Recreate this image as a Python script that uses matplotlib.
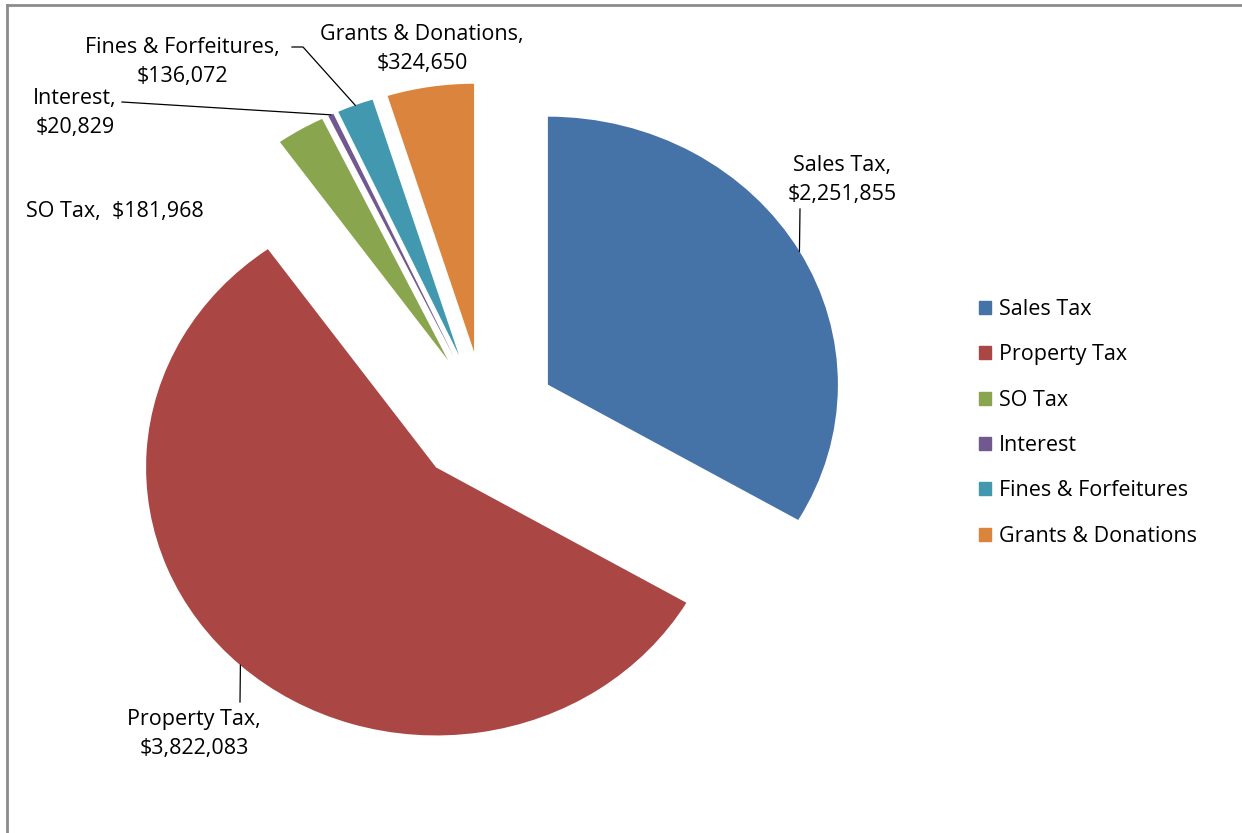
import matplotlib
matplotlib.use("Agg")
import matplotlib.pyplot as plt
from matplotlib.lines import Line2D
import numpy as np

categories = ["Sales Tax", "Property Tax", "SO Tax", "Interest",
              "Fines & Forfeitures", "Grants & Donations"]
values = [2251855, 3822083, 181968, 20829, 136072, 324650]
colors = ["#4572A7", "#AA4643", "#89A54E", "#71588F", "#4198AF", "#DB843D"]

W, H = 1242, 833
fig = plt.figure(figsize=(W / 100, H / 100), dpi=100)
ax = fig.add_axes([0, 0, 1, 1])

# pixel geometry of the (elliptical) pie
CX, CY = 485, 418
RX, RY = 290, 268

def px2d(x, y):
    return (x - CX) / RX, (CY - y) / RY

plt.rcParams['font.family'] = ['Open Sans', 'DejaVu Sans']
FS = 15.5

wedges, _ = ax.pie(values, colors=colors, startangle=90, counterclock=False,
                   explode=[0.25] * len(values), radius=1.0,
                   wedgeprops=dict(linewidth=0))
ax.set_aspect('auto')
ax.set_xlim(-CX / RX, (W - CX) / RX)
ax.set_ylim((CY - H) / RY, CY / RY)
ax.axis('off')

def arc_point(w):
    mid = np.deg2rad((w.theta1 + w.theta2) / 2)
    cx, cy = w.center
    return cx + w.r * np.cos(mid), cy + w.r * np.sin(mid)

def label(text, px, py, ha='center'):
    x, y = px2d(px, py)
    ax.text(x, y, text, ha=ha, va='center', fontsize=FS, color='black',
            linespacing=1.5)

def leader(pts_px, w):
    xs, ys = zip(*[px2d(*p) for p in pts_px])
    ax_pt = arc_point(w)
    ax.plot(list(xs) + [ax_pt[0]], list(ys) + [ax_pt[1]], color='black', lw=0.9)

# Sales Tax
label(f"{categories[0]},\n${values[0]:,}", 842, 180)
ax.plot(*zip(px2d(800, 209), arc_point(wedges[0])), color='black', lw=0.9)
# Property Tax
label(f"{categories[1]},\n${values[1]:,}", 194, 734)
ax.plot(*zip(px2d(240, 702), arc_point(wedges[1])), color='black', lw=0.9)
# SO Tax
label(f"{categories[2]},  ${values[2]:,}", 115, 212)
# Interest
label(f"{categories[3]},\n${values[3]:,}", 75, 113)
leader([(122, 102)], wedges[3])
# Fines
label(f"{categories[4]},\n${values[4]:,}", 182, 62)
leader([(292, 47), (303, 47)], wedges[4])
# Grants
label(f"{categories[5]},\n${values[5]:,}", 422, 49)

# legend
handles = [plt.Rectangle((0, 0), 1, 1, color=c) for c in colors]
fig.legend(handles, categories, loc='upper left',
           bbox_to_anchor=(979 / W, 1 - 299 / H), frameon=False,
           fontsize=FS, handlelength=0.55, handleheight=0.55,
           handletextpad=0.38, labelspacing=1.13, borderaxespad=0,
           borderpad=0)

# chart border (top & left visible)
fig.add_artist(Line2D([7 / W, 7 / W], [0, 1 - 5 / H], transform=fig.transFigure,
                      color='#8C8C8C', lw=2))
fig.add_artist(Line2D([7 / W, 1], [1 - 5 / H, 1 - 5 / H], transform=fig.transFigure,
                      color='#8C8C8C', lw=2))

fig.savefig("out.png", dpi=100)
